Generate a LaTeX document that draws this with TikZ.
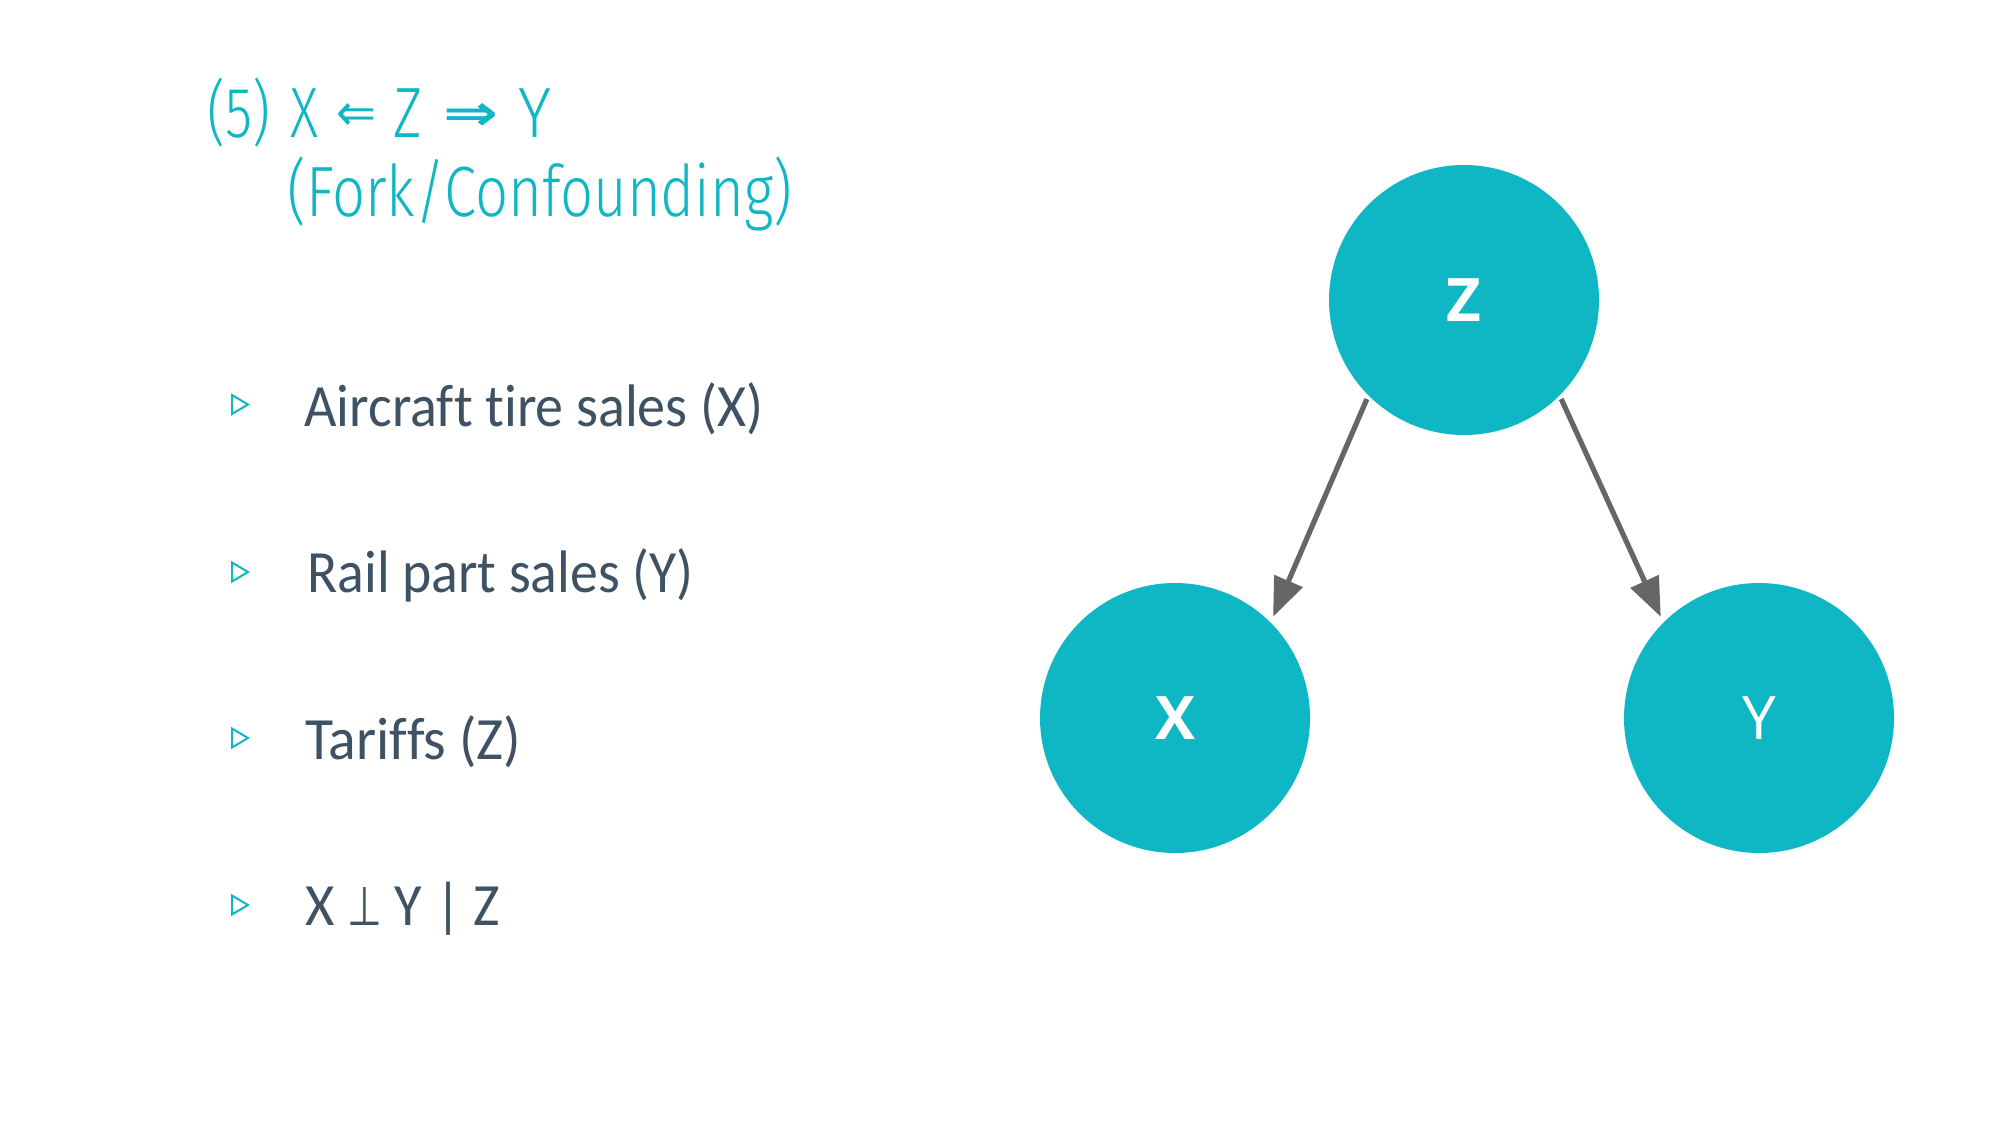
\documentclass[tikz,border=0pt]{standalone}
\usepackage{fontspec}
\usepackage{graphicx}
\usetikzlibrary{arrows.meta}
\setmainfont{Carlito}[Ligatures=NoCommon]
\newfontfamily\headfont{Fira Sans Light}[Ligatures=NoCommon]
\newfontfamily\symfont{DejaVu Sans}
\newfontfamily\labelfont{Open Sans}

\definecolor{accent}{HTML}{0FB7C5}
\definecolor{bodytext}{HTML}{3E5263}
\definecolor{edgegray}{HTML}{666666}

% squeeze or stretch a text horizontally to a given width
\newcommand\fitw[2]{\resizebox{#1}{\height}{#2}}

\begin{document}
\begin{tikzpicture}[x=0.5pt,y=-0.5pt,
  var/.style={circle, fill=accent, minimum size=135pt, inner sep=0pt,
    text=white, font=\labelfont\fontsize{30}{30}\selectfont},
  conn/.style={draw=edgegray, line width=2.6pt,
    -{Triangle[length=19.5pt,width=15pt]}},
  head/.style={anchor=base west, inner sep=0pt, text=accent,
    font=\headfont\fontsize{35.6}{36}\selectfont},
  headsym/.style={anchor=center, inner sep=0pt, text=accent},
  item/.style={anchor=base west, inner sep=0pt, text=bodytext,
    font=\fontsize{30}{30}\selectfont},
  bulletmark/.style={draw=accent, line width=1pt, line join=miter}
]
\fill[white] (0,0) rectangle (2000,1125);
\useasboundingbox (0,0) rectangle (2000,1125);

% heading
\node[head] (t5) at (207,137) {\fitw{31.5pt}{(5)}};
\node[head] (tX) at (290,137) {\fitw{14pt}{X}};
\node[headsym] (tl) at (356,116.5) {\resizebox{20pt}{13.5pt}{\symfont ⇐}};
\node[head] (tZ) at (393,137) {\fitw{14.5pt}{Z}};
\node[headsym] (tr) at (470.5,116.5) {\resizebox{27.5pt}{13.5pt}{\symfont\bfseries ⇒}};
\node[head] (tY) at (518,137) {\fitw{16.5pt}{Y}};
\node[head] (sub) at (287,216) {\fitw{252.5pt}{(Fork/Confounding)}};

% bullet list
\foreach \c in {404.5,572,738,905}
  \draw[bulletmark] (232,\c-9.5) -- (232,\c+9.5) -- (248,\c) -- cycle;
\node[item] (i1) at (304,426) {\fitw{229.5pt}{Aircraft tire sales (X)}};
\node[item] (i2) at (307,592) {\fitw{193pt}{Rail part sales (Y)}};
\node[item] (i3) at (305,759) {\fitw{108pt}{Tariffs (Z)}};
\node[item] (i4) at (305,925) {\fitw{97.5pt}{X \resizebox{18.5pt}{19pt}{\symfont ⊥} Y | Z}};

% causal graph
\node[var] (Z) at (1464,300) {\bfseries Z};
\node[var] (X) at (1175,718) {\bfseries X};
\node[var] (Y) at (1759,718) {Y};

\draw[conn, shorten <=1.8pt, shorten >=3pt] (Z.225) -- (X.45);
\draw[conn, shorten <=1.8pt, shorten >=3pt] (Z.-45) -- (Y.135);
\end{tikzpicture}
\end{document}
